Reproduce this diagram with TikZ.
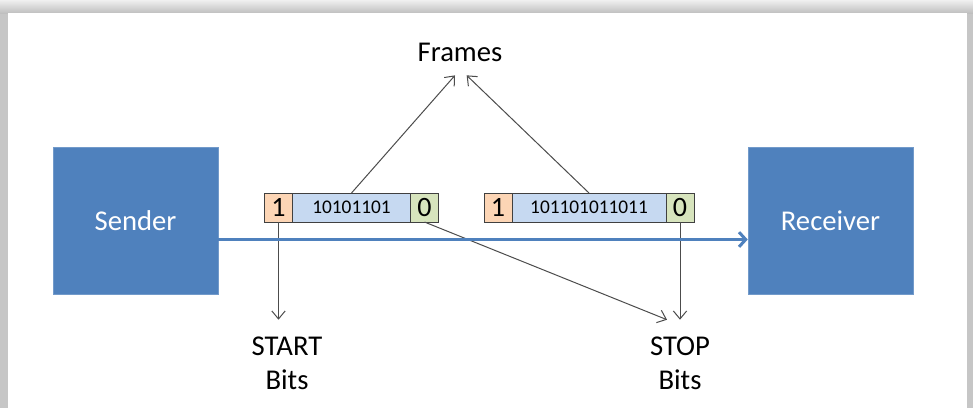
\documentclass[tikz,border=0pt]{standalone}
\usepackage{fontspec}
\setmainfont{Carlito}
\usetikzlibrary{positioning,arrows.meta}
\definecolor{boxblue}{HTML}{4F81BD}
\definecolor{startfill}{HTML}{FCD5B5}
\definecolor{datafill}{HTML}{C6D9F1}
\definecolor{stopfill}{HTML}{D7E4BD}
\tikzstyle{station}=[
    fill = boxblue,
    draw = boxblue!80!white,
    text = white,
    minimum width = 123.75pt,
    minimum height = 110.25pt,
    font = \fontsize{21.5}{25}\selectfont
]
\tikzstyle{cell}=[
    draw = black!75,
    line width = 0.75pt,
    minimum height = 21.75pt,
    inner sep = 0pt,
    outer sep = 0pt
]

\begin{document}
\begin{tikzpicture}[x=0.75pt, y=-0.75pt,
    bit/.style = {cell, minimum width = 21pt, font = \fontsize{21}{21}\selectfont},
    bits/.style = {cell, fill = datafill, font = \fontsize{14.5}{15}\selectfont},
    word/.style = {align = center, font = \fontsize{21.5}{25.5}\selectfont},
    pointer/.style = {draw = black!70, line width = 0.75pt, -{Straight Barb[length=6pt, width=10pt]}},
    flow/.style = {draw = boxblue, line width = 2.25pt, -{Straight Barb[length=5pt, width=11pt]}}]
        \useasboundingbox (0,0) rectangle (973,408);
        % shadowed sheet
        \fill[gray!45] (0,0) rectangle (973,408);
        \shade[top color = gray!12, bottom color = gray!50] (0,0) rectangle (973,13);
        \fill[white] (8,13) rectangle (967,408);

        \node[station] (sender) at (135.5,220.5) {Sender};
        \node[station] (receiver) at (830.5,220.5) {Receiver};

        \node[bit, fill = startfill] (s1) at (278.5,207.5) {1};
        \node[bits, minimum width = 88.5pt, right = 0pt of s1] (d1) {10101101};
        \node[bit, fill = stopfill, right = 0pt of d1] (e1) {0};

        \node[bit, fill = startfill] (s2) at (498,207.5) {1};
        \node[bits, minimum width = 115.5pt, right = 0pt of s2] (d2) {101101011011};
        \node[bit, fill = stopfill, right = 0pt of d2] (e2) {0};

        \node[word] (frames) at (460,52) {Frames};
        \node[word] (start) at (287,363.5) {START\\Bits};
        \node[word] (stop) at (680,363.5) {STOP\\Bits};

        \draw[pointer] (d1.north) -- ([xshift=-3.75pt, yshift=-7pt]frames.south);
        \draw[pointer] (d2.north) -- ([xshift=5pt, yshift=-7pt]frames.south);
        \draw[pointer, shorten >= 9.5pt] (s1.south) -- (s1.south |- start.north);
        \draw[pointer, shorten >= 9.5pt] (e2.south) -- (e2.south |- stop.north);
        \draw[pointer] (e1.south) -- ([xshift=-9.75pt, yshift=9.5pt]stop.north);

        \draw[flow] ([yshift=-14.25pt]sender.east) -- ([yshift=-14.25pt]receiver.west);

    \end{tikzpicture}
\end{document}
